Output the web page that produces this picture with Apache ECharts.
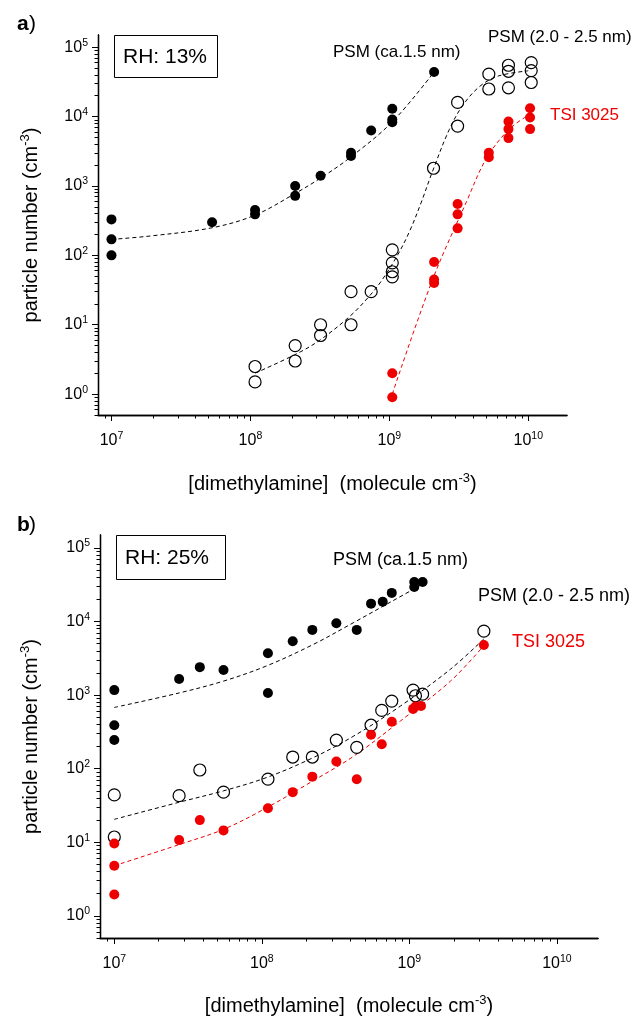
<!DOCTYPE html>
<html><head><meta charset="utf-8">
<script src="https://cdn.jsdelivr.net/npm/echarts@6/dist/echarts.min.js"></script>
<style>html,body{margin:0;padding:0;background:#fff}#c{width:635px;height:1023px}</style>
</head><body><div id="c"></div>
<script>
// ---------- data ----------
// Panel a (RH 13%)
const a_psm15 = [[1e7,330],[1e7,170],[1e7,100],[5.3e7,300],[1.08e8,450],[1.08e8,390],[2.1e8,1000],[2.1e8,720],
  [3.2e8,1400],[5.3e8,3000],[5.3e8,2700],[7.4e8,6300],[1.05e9,13000],[1.05e9,9100],[1.05e9,8300],[2.1e9,44000]];
const a_psm15_fit = [[1e7,170],[1.9e7,190],[5.3e7,250],[1.08e8,380],[2.1e8,780],[3.2e8,1300],[5.1e8,2480],[1.05e9,8400],[2.1e9,44000]];
const a_psm25 = [[1.08e8,2.5],[1.08e8,1.5],[2.1e8,5],[2.1e8,3],[3.2e8,10],[3.2e8,7],[5.3e8,30],[5.3e8,10],[7.4e8,30],
  [1.05e9,120],[1.05e9,78],[1.05e9,58],[1.05e9,49],[2.08e9,1800],[3.1e9,16000],[3.1e9,7300],[5.2e9,41000],[5.2e9,25000],
  [7.2e9,55000],[7.2e9,45000],[7.2e9,26000],[1.05e10,60000],[1.05e10,46000],[1.05e10,31000]];
const a_psm25_fit = [[1.08e8,2.0],[2.2e8,3.9],[3.2e8,6.1],[5.3e8,13.7],[7.4e8,27.7],[8.9e8,44.7],[1.15e9,102],[1.4e9,223],
  [1.7e9,586],[2.04e9,1600],[2.7e9,6500],[3.4e9,14800],[4.5e9,27500],[6.1e9,38500],[1.0e10,45700]];
const a_tsi = [[1.05e9,2],[1.05e9,0.9],[2.1e9,80],[2.1e9,45],[2.1e9,40],[3.1e9,550],[3.1e9,390],[3.1e9,245],
  [5.2e9,3000],[5.2e9,2600],[7.2e9,8500],[7.2e9,6600],[7.2e9,4900],[1.03e10,13200],[1.03e10,9700],[1.03e10,6600]];
const a_tsi_fit = [[1.05e9,1.0],[2.05e9,45],[3.6e9,600],[5e9,2500],[7.3e9,6600],[1.02e10,10700]];

// Panel b (RH 25%)
const b_psm15 = [[1e7,1170],[1e7,390],[1e7,245],[2.75e7,1660],[3.8e7,2400],[5.5e7,2200],[1.1e8,3700],[1.1e8,1070],
  [1.62e8,5400],[2.2e8,7700],[3.2e8,9500],[4.4e8,7700],[5.5e8,17500],[6.6e8,18600],[7.6e8,24500],
  [1.08e9,34500],[1.23e9,34500],[1.08e9,29500]];
const b_psm15_fit = [[1e7,680],[2.75e7,1070],[5.5e7,1550],[1.08e8,2500],[2.24e8,4900],[4.2e8,9700],[1.05e9,27000],[1.2e9,31500]];
const b_psm25 = [[1e7,44],[1e7,11.8],[2.75e7,43],[3.8e7,96],[5.5e7,48],[1.1e8,72],[1.62e8,144],[2.2e8,144],[3.2e8,245],
  [4.4e8,195],[5.5e8,390],[6.5e8,620],[7.6e8,830],[1.06e9,1170],[1.1e9,980],[1.23e9,1030],[3.2e9,7400]];
const b_psm25_fit = [[1e7,20.5],[2.75e7,35],[5.5e7,50],[1.08e8,76],[2.24e8,142],[4.2e8,278],[8.7e8,710],[1.9e9,2250],[3.2e9,5800]];
const b_tsi = [[1e7,9.6],[1e7,4.8],[1e7,1.95],[2.75e7,10.7],[3.8e7,20],[5.5e7,14.5],[1.1e8,29],[1.62e8,48],[2.2e8,78],
  [3.2e8,125],[4.4e8,72],[5.5e8,290],[6.5e8,215],[7.6e8,435],[1.06e9,650],[1.1e9,700],[1.2e9,710],[3.2e9,4800]];
const b_tsi_fit = [[1e7,4.8],[2.75e7,9.3],[5.5e7,15],[1.08e8,29.5],[2.24e8,69],[4.2e8,148],[8.7e8,445],[1.9e9,1550],[3.2e9,4700]];

// axis ranges and tick labels
const xRange = [8e6, 1.9e10];
const yRange = [0.5, 1.5e5];
const xMajorTicks = [1e7, 1e8, 1e9, 1e10];
const yMajorTicks = [1, 10, 100, 1000, 10000, 100000];
const panelLabels = ['a', 'b'];
const rhLabels = ['RH: 13%', 'RH: 25%'];
const seriesNames = ['PSM (ca.1.5 nm)', 'PSM (2.0 - 2.5 nm)', 'TSI 3025'];
const xTitle = '[dimethylamine]  (molecule cm{s|-3})';
const yTitle = 'particle number (cm{s|-3})';

// ---------- helpers ----------
function minorTicks(lo, hi) {
  const out = [];
  for (let e = -1; e <= 10; e++) {
    for (let m = 2; m <= 9; m++) {
      const v = m * Math.pow(10, e);
      if (v > lo && v < hi) out.push(v);
    }
  }
  return out;
}
const xMinor = minorTicks(xRange[0], xRange[1]);
const yMinor = minorTicks(yRange[0] * 0.99, yRange[1]);

const FONT = 'Liberation Sans, Arial, sans-serif';
const RED = '#ee0000';
const powFmt = v => '{b|10}{s|' + Math.round(Math.log10(v)) + '}';
const labRich = {
  b: {fontSize: 16, fontFamily: FONT, color: '#000', lineHeight: 20},
  s: {fontSize: 10.5, fontFamily: FONT, color: '#000', verticalAlign: 'top', lineHeight: 20}
};
const nameRich = {
  s: {fontSize: 13, fontFamily: FONT, color: '#000', verticalAlign: 'top', lineHeight: 24}
};

function xAxes(g, nameGap) {
  return [{
    type: 'log', gridIndex: g, min: xRange[0], max: xRange[1], position: 'bottom',
    axisLine: {show: true, lineStyle: {color: '#000', width: 1.3}},
    axisTick: {show: true, length: 6, inside: false, customValues: xMajorTicks, lineStyle: {color: '#000', width: 1}},
    axisLabel: {show: true, customValues: xMajorTicks, formatter: powFmt, rich: labRich, margin: 16},
    splitLine: {show: false}, minorTick: {show: false},
    name: xTitle, nameLocation: 'middle', nameGap: nameGap,
    nameTextStyle: {fontSize: 20, fontFamily: FONT, color: '#000', rich: nameRich, lineHeight: 24}
  }, {
    type: 'log', gridIndex: g, min: xRange[0], max: xRange[1], position: 'bottom',
    axisLine: {show: true, lineStyle: {color: '#000', width: 1.3}},
    axisTick: {show: true, length: 3.5, inside: false, customValues: xMinor, lineStyle: {color: '#000', width: 1}},
    axisLabel: {show: false, customValues: xMinor}, splitLine: {show: false}
  }];
}
function yAxes(g, nameGap) {
  return [{
    type: 'log', gridIndex: g, min: yRange[0], max: yRange[1], position: 'left',
    axisLine: {show: true, lineStyle: {color: '#000', width: 1.3}},
    axisTick: {show: true, length: 6, inside: false, customValues: yMajorTicks, lineStyle: {color: '#000', width: 1}},
    axisLabel: {show: true, customValues: yMajorTicks, formatter: powFmt, rich: labRich, margin: 10},
    splitLine: {show: false}, minorTick: {show: false},
    name: yTitle, nameLocation: 'middle', nameGap: nameGap,
    nameTextStyle: {fontSize: 20, fontFamily: FONT, color: '#000', rich: nameRich, lineHeight: 24}
  }, {
    type: 'log', gridIndex: g, min: yRange[0], max: yRange[1], position: 'left',
    axisLine: {show: true, lineStyle: {color: '#000', width: 1.3}},
    axisTick: {show: true, length: 3.5, inside: false, customValues: yMinor, lineStyle: {color: '#000', width: 1}},
    axisLabel: {show: false, customValues: yMinor}, splitLine: {show: false}
  }];
}

function pts(data, g, kind) {
  const base = {type: 'scatter', data: data, xAxisIndex: g * 2, yAxisIndex: g * 2, symbol: 'circle', z: 3, silent: true};
  if (kind === 'open') {
    base.symbolSize = 12;
    base.itemStyle = {color: 'rgba(0,0,0,0)', borderColor: '#000', borderWidth: 1.2, opacity: 1};
  } else {
    base.symbolSize = 10;
    base.itemStyle = {color: kind === 'red' ? RED : '#000', opacity: 1};
  }
  return base;
}
function fit(data, g, color) {
  return {type: 'line', data: data, xAxisIndex: g * 2, yAxisIndex: g * 2, showSymbol: false, symbol: 'none',
    smooth: 0.35, silent: true, z: 2,
    lineStyle: {color: color, width: 1, type: [4, 3]}};
}

function txt(x, y, text, size, color, weight) {
  return {type: 'text', x: x, y: y, silent: true,
    style: {text: text, fill: color || '#000', font: (weight || 'normal') + ' ' + size + 'px ' + FONT,
      textVerticalAlign: 'middle', verticalAlign: 'middle'}};
}

const option = {
  animation: false,
  backgroundColor: '#fff',
  grid: [
    {left: 98, top: 35, width: 469, height: 380},
    {left: 100, top: 535, width: 498, height: 403}
  ],
  xAxis: [...xAxes(0, 57), ...xAxes(1, 56)],
  yAxis: [...yAxes(0, 55), ...yAxes(1, 57)],
  series: [
    fit(a_psm15_fit, 0, '#000'), fit(a_psm25_fit, 0, '#000'), fit(a_tsi_fit, 0, RED),
    pts(a_psm15, 0, 'filled'), pts(a_psm25, 0, 'open'), pts(a_tsi, 0, 'red'),
    fit(b_psm15_fit, 1, '#000'), fit(b_psm25_fit, 1, '#000'), fit(b_tsi_fit, 1, RED),
    pts(b_psm15, 1, 'filled'), pts(b_psm25, 1, 'open'), pts(b_tsi, 1, 'red')
  ],
  graphic: [
    txt(17, 24, panelLabels[0], 21, '#000', 'bold'), txt(29, 24, ')', 21),
    txt(17, 525, panelLabels[1], 21, '#000', 'bold'), txt(29, 525, ')', 21),
    {type: 'rect', shape: {x: 114.5, y: 35.5, width: 103, height: 42}, style: {fill: '#fff', stroke: '#000', lineWidth: 1}, z: 10},
    Object.assign(txt(123, 57, rhLabels[0], 21), {z: 11}),
    {type: 'rect', shape: {x: 116.5, y: 535.5, width: 109, height: 44}, style: {fill: '#fff', stroke: '#000', lineWidth: 1}, z: 10},
    Object.assign(txt(125, 558, rhLabels[1], 21), {z: 11}),
    txt(333, 52, seriesNames[0], 17), txt(488, 37, seriesNames[1], 17), txt(550, 115, seriesNames[2], 17, RED),
    txt(333, 560, seriesNames[0], 18), txt(478, 596, seriesNames[1], 18), txt(512, 642, seriesNames[2], 18, RED)
  ]
};
const chart = echarts.init(document.getElementById('c'), null, {renderer: 'canvas'});
chart.setOption(option);
</script></body></html>
